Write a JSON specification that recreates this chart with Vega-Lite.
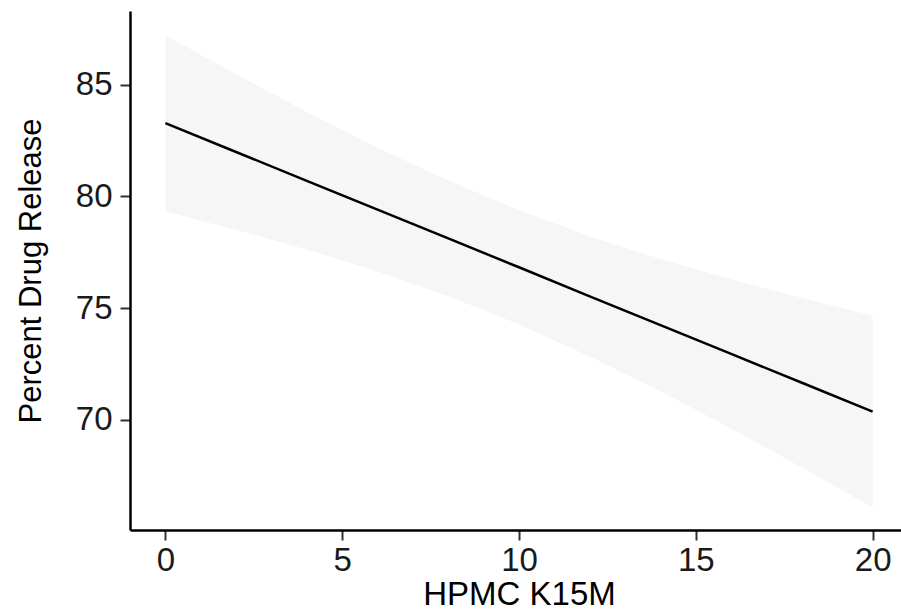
{
  "$schema": "https://vega.github.io/schema/vega-lite/v6.json",
  "autosize": {"type": "none"},
  "width": 778,
  "height": 519,
  "padding": {"left": 130, "top": 11, "right": 0, "bottom": 81},
  "background": "white",
  "config": {
    "view": {"stroke": null},
    "axis": {
      "grid": false,
      "domainColor": "black",
      "domainWidth": 2.5,
      "tickColor": "#333333",
      "tickWidth": 2,
      "tickSize": 10,
      "labelFont": "Liberation Sans",
      "labelFontSize": 33,
      "labelColor": "#1a1a1a",
      "titleFont": "Liberation Sans",
      "titleFontWeight": "normal",
      "titleColor": "black"
    }
  },
  "data": {
    "values": [
      {"x": 0, "fit": 83.28, "lo": 79.33, "hi": 87.23},
      {"x": 2, "fit": 81.99, "lo": 78.51, "hi": 85.47},
      {"x": 4, "fit": 80.70, "lo": 77.62, "hi": 83.78},
      {"x": 6, "fit": 79.41, "lo": 76.64, "hi": 82.18},
      {"x": 8, "fit": 78.12, "lo": 75.53, "hi": 80.71},
      {"x": 10, "fit": 76.83, "lo": 74.27, "hi": 79.39},
      {"x": 12, "fit": 75.53, "lo": 72.84, "hi": 78.22},
      {"x": 14, "fit": 74.24, "lo": 71.28, "hi": 77.20},
      {"x": 16, "fit": 72.95, "lo": 69.61, "hi": 76.29},
      {"x": 18, "fit": 71.66, "lo": 67.87, "hi": 75.45},
      {"x": 20, "fit": 70.37, "lo": 66.08, "hi": 74.66}
    ]
  },
  "layer": [
    {
      "mark": {"type": "area", "color": "#f6f6f6", "opacity": 1},
      "encoding": {
        "x": {"field": "x", "type": "quantitative",
              "scale": {"domain": [-1, 21], "nice": false, "zero": false},
              "axis": {"values": [0, 5, 10, 15, 20], "title": "HPMC K15M", "titleFontSize": 33, "labelPadding": 4, "titlePadding": 1}},
        "y": {"field": "lo", "type": "quantitative",
              "scale": {"domain": [65.07, 88.3], "nice": false, "zero": false},
              "axis": {"values": [70, 75, 80, 85], "title": "Percent Drug Release", "titleFontSize": 31, "labelPadding": 8, "titlePadding": 28}},
        "y2": {"field": "hi"}
      }
    },
    {
      "mark": {"type": "line", "color": "black", "strokeWidth": 2.5},
      "encoding": {
        "x": {"field": "x", "type": "quantitative"},
        "y": {"field": "fit", "type": "quantitative"}
      }
    }
  ]
}
